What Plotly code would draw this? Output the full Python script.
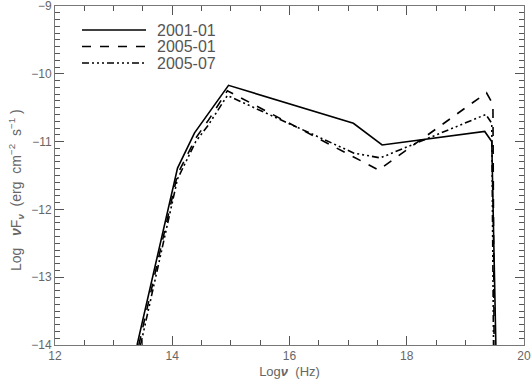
import plotly.graph_objects as go

# Spectral energy distribution, three epochs
x_2001_01 = [13.40, 14.09, 14.38, 14.60, 14.96, 17.09, 17.58, 19.33, 19.45, 19.52]
y_2001_01 = [-14.0, -11.39, -10.87, -10.60, -10.17, -10.73, -11.05, -10.85, -11.00, -14.0]

x_2005_01 = [13.43, 14.09, 14.40, 14.62, 14.94, 17.52, 19.36, 19.47, 19.49]
y_2005_01 = [-14.0, -11.48, -10.95, -10.68, -10.25, -11.42, -10.28, -10.45, -14.0]

x_2005_07 = [13.46, 14.09, 14.40, 14.62, 14.94, 17.10, 17.55, 19.35, 19.45, 19.48]
y_2005_07 = [-14.0, -11.55, -11.00, -10.75, -10.32, -11.17, -11.24, -10.60, -10.73, -14.0]

names = ["2001-01", "2005-01", "2005-07"]
dashes = ["solid", "dash", "7px,3px,2px,3px,2px,3px,2px,3px"]
series = [(x_2001_01, y_2001_01), (x_2005_01, y_2005_01), (x_2005_07, y_2005_07)]

L, R, T, B = 55, 8, 6, 41
W, H = 532, 386
pw, ph = W - L - R, H - T - B
grey = "#777"

fig = go.Figure()
for (xs, ys), name, dash in zip(series, names, dashes):
    fig.add_trace(go.Scatter(x=xs, y=ys, mode="lines", name=name,
                             line=dict(color="black", width=1.6, dash=dash)))

# hand-drawn legend (long line samples like the original)
for i, (name, dash) in enumerate(zip(names, dashes)):
    ypos = 30 + i * 16.5
    yp = 1 - (ypos - T) / ph
    fig.add_shape(type="line", xref="paper", yref="paper",
                  x0=(82 - L) / pw, x1=(146 - L) / pw, y0=yp, y1=yp,
                  line=dict(color="black", width=1.4, dash=dash))
    fig.add_annotation(text=name, xref="paper", yref="paper",
                       x=(155 - L) / pw, y=yp,
                       xanchor="left", yanchor="middle", showarrow=False,
                       font=dict(size=16, color="#555"))

# y-axis title as rotated annotation
fig.add_annotation(text="Log   <b><i>ν</i></b>F<sub><b><i>ν</i></b></sub>  (erg  cm<sup>−2</sup>  s<sup>−1</sup> )",
                   xref="paper", yref="paper", x=(16 - L) / pw, y=1 - (190 - T) / ph,
                   xanchor="center", yanchor="middle", textangle=-90, showarrow=False,
                   font=dict(size=14, color="#666"))

axis_style = dict(showline=True, linecolor=grey, linewidth=1, mirror="allticks",
                  ticks="inside", tickcolor="#555", tickwidth=1.3, showgrid=False, zeroline=False,
                  ticklabeloverflow="allow", automargin=False,
                  tickfont=dict(size=12, color="#666"))

fig.update_xaxes(range=[12, 20], tickmode="linear", tick0=12, dtick=2, ticklen=9,
                 minor=dict(ticks="inside", ticklen=5, tickwidth=1.3, tickcolor="#555",
                            tickmode="linear", tick0=12, dtick=0.5),
                 title=dict(text="Log<b><i>ν</i></b>  (Hz)", font=dict(size=13, color="#666"), standoff=4),
                 **axis_style)
fig.update_yaxes(range=[-14, -9], tickmode="linear", tick0=-14, dtick=1, ticklen=9,
                 minor=dict(ticks="inside", ticklen=5, tickwidth=1.3, tickcolor="#555",
                            tickmode="linear", tick0=-14, dtick=0.1),
                 **axis_style)

fig.update_layout(width=W, height=H, showlegend=False,
                  margin=dict(l=L, r=R, t=T, b=B),
                  paper_bgcolor="white", plot_bgcolor="white",
                  font=dict(family="Liberation Sans, Arial, sans-serif"))

fig.write_html("out.html", config={"displayModeBar": False},
               post_script="document.body.style.margin='0';")
